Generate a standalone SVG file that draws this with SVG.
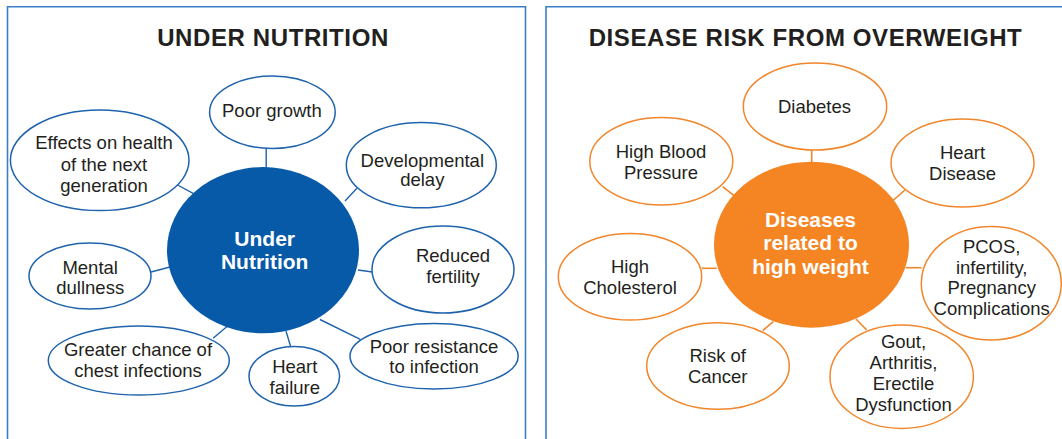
<svg xmlns="http://www.w3.org/2000/svg" width="1062" height="439" viewBox="0 0 1062 439">
<style>
.frame{fill:none;stroke:#3d7fc6;stroke-width:1.6}
.title{font-family:"Liberation Sans",Arial,sans-serif;font-weight:bold;font-size:24px;letter-spacing:0.6px;fill:#231f20;text-anchor:middle}
.lbl{font-family:"Liberation Sans",Arial,sans-serif;font-size:18.5px;fill:#231f20;text-anchor:middle}
.ctr{font-family:"Liberation Sans",Arial,sans-serif;font-weight:bold;font-size:21px;fill:#ffffff;text-anchor:middle}
.bn{fill:#ffffff;stroke:#1f63ad;stroke-width:1.5}
.on{fill:#ffffff;stroke:#f1862b;stroke-width:1.5}
.bl{stroke:#1f63ad;stroke-width:1.4;fill:none}
.ol{stroke:#f1862b;stroke-width:1.6;fill:none}
</style>
<rect width="1062" height="439" fill="#ffffff"/>
<g id="frames">
<path class="frame" d="M7.5 440 V6.7 H525.5 V440"/>
<path class="frame" d="M546 440 V6.7 H1064"/>
</g>
<text class="title" x="273" y="46">UNDER NUTRITION</text>
<text class="title" x="805.5" y="46">DISEASE RISK FROM OVERWEIGHT</text>
<g id="connectors">
<line class="bl" x1="266.2" y1="148" x2="266.2" y2="168"/>
<line class="bl" x1="177.6" y1="185" x2="194" y2="193.8"/>
<line class="bl" x1="356.9" y1="188.3" x2="345" y2="201"/>
<line class="bl" x1="151" y1="272" x2="170" y2="267"/>
<line class="bl" x1="358" y1="270" x2="372.4" y2="272"/>
<line class="bl" x1="227" y1="326.5" x2="213.1" y2="338.3"/>
<line class="bl" x1="286" y1="331" x2="290.7" y2="346.7"/>
<line class="bl" x1="320" y1="319.5" x2="360.3" y2="339.3"/>
<line class="ol" x1="811.7" y1="150" x2="811.7" y2="163"/>
<line class="ol" x1="722.7" y1="186.7" x2="734" y2="195.6"/>
<line class="ol" x1="905" y1="190" x2="893" y2="200.5"/>
<line class="ol" x1="701.7" y1="268.3" x2="716.7" y2="268.3"/>
<line class="ol" x1="905.7" y1="267.7" x2="921.5" y2="267.7"/>
<line class="ol" x1="773.3" y1="321.7" x2="762.7" y2="330.7"/>
<line class="ol" x1="856" y1="319" x2="866.7" y2="330"/>
</g>
<g id="under-nutrition">
<ellipse cx="263" cy="250.2" rx="96" ry="83.1" fill="#075aa8"/>
<text class="ctr" x="264.7" y="246">Under</text>
<text class="ctr" x="264.7" y="269.3">Nutrition</text>
</g>
<g id="poor-growth">
<ellipse class="bn" cx="272.4" cy="112.2" rx="62.8" ry="36.2"/>
<text class="lbl" x="271.9" y="117.3">Poor growth</text>
</g>
<g id="effects-next-generation">
<ellipse class="bn" cx="99.7" cy="160.3" rx="89.3" ry="50.3"/>
<text class="lbl" x="104" y="149.3">Effects on health</text>
<text class="lbl" x="104" y="170.6">of the next</text>
<text class="lbl" x="104" y="191.9">generation</text>
</g>
<g id="developmental-delay">
<ellipse class="bn" cx="421.3" cy="165.2" rx="75" ry="42.6"/>
<text class="lbl" x="422.3" y="166.7">Developmental</text>
<text class="lbl" x="422.3" y="186">delay</text>
</g>
<g id="mental-dullness">
<ellipse class="bn" cx="90" cy="276" rx="61" ry="33"/>
<text class="lbl" x="90.2" y="274">Mental</text>
<text class="lbl" x="90.2" y="294">dullness</text>
</g>
<g id="reduced-fertility">
<ellipse class="bn" cx="443" cy="269.5" rx="71" ry="43.5"/>
<text class="lbl" x="453" y="261.7">Reduced</text>
<text class="lbl" x="453" y="283">fertility</text>
</g>
<g id="chest-infections">
<ellipse class="bn" cx="138.8" cy="360.5" rx="90.5" ry="34.5"/>
<text class="lbl" x="138" y="356">Greater chance of</text>
<text class="lbl" x="138" y="376.7">chest infections</text>
</g>
<g id="heart-failure">
<ellipse class="bn" cx="294.3" cy="376.3" rx="45.3" ry="29.7"/>
<text class="lbl" x="294.8" y="373.3">Heart</text>
<text class="lbl" x="294.8" y="394">failure</text>
</g>
<g id="poor-resistance">
<ellipse class="bn" cx="434.1" cy="356.2" rx="84.1" ry="32.8"/>
<text class="lbl" x="434" y="352.7">Poor resistance</text>
<text class="lbl" x="434" y="372.7">to infection</text>
</g>
<g id="high-weight">
<ellipse cx="811.5" cy="244.7" rx="97.5" ry="83" fill="#f58423"/>
<text class="ctr" x="810.5" y="226.7">Diseases</text>
<text class="ctr" x="810.5" y="250.3">related to</text>
<text class="ctr" x="810.5" y="273.5">high weight</text>
</g>
<g id="diabetes">
<ellipse class="on" cx="815" cy="106.5" rx="71.7" ry="43.5"/>
<text class="lbl" x="814.5" y="113.3">Diabetes</text>
</g>
<g id="high-blood-pressure">
<ellipse class="on" cx="661.3" cy="161.2" rx="71.5" ry="43.8"/>
<text class="lbl" x="661" y="158.3">High Blood</text>
<text class="lbl" x="661" y="179.3">Pressure</text>
</g>
<g id="heart-disease">
<ellipse class="on" cx="962.5" cy="163" rx="71.5" ry="44"/>
<text class="lbl" x="962.5" y="159.3">Heart</text>
<text class="lbl" x="962.5" y="180">Disease</text>
</g>
<g id="high-cholesterol">
<ellipse class="on" cx="630" cy="276.7" rx="71.7" ry="43.3"/>
<text class="lbl" x="630" y="273.3">High</text>
<text class="lbl" x="630" y="294">Cholesterol</text>
</g>
<g id="pcos">
<ellipse class="on" cx="991.3" cy="283.3" rx="70" ry="56.7"/>
<text class="lbl" x="991.7" y="253.3">PCOS,</text>
<text class="lbl" x="991.7" y="273.8">infertility,</text>
<text class="lbl" x="991.7" y="294.3">Pregnancy</text>
<text class="lbl" x="991.7" y="315">Complications</text>
</g>
<g id="risk-of-cancer">
<ellipse class="on" cx="718" cy="366" rx="71.3" ry="43.3"/>
<text class="lbl" x="717.7" y="361.7">Risk of</text>
<text class="lbl" x="717.7" y="382.7">Cancer</text>
</g>
<g id="gout">
<ellipse class="on" cx="901.7" cy="376.7" rx="71.7" ry="51.7"/>
<text class="lbl" x="903.5" y="348.3">Gout,</text>
<text class="lbl" x="903.5" y="368.8">Arthritis,</text>
<text class="lbl" x="903.5" y="389.5">Erectile</text>
<text class="lbl" x="903.5" y="410.5">Dysfunction</text>
</g>
</svg>
